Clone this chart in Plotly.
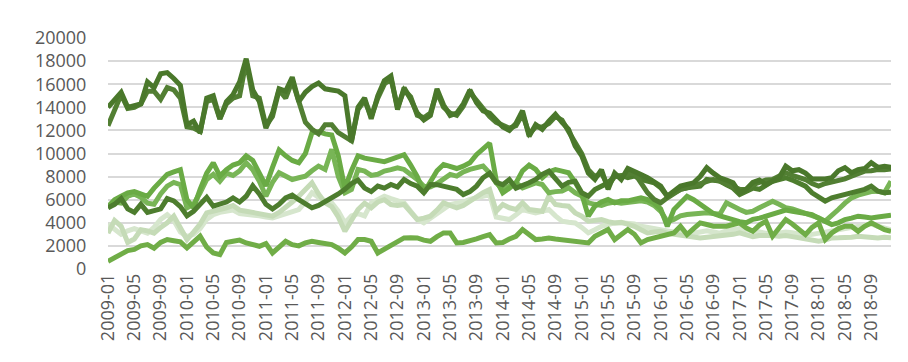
import plotly.graph_objects as go

months = [f"{y}-{m:02d}" for y in range(2009, 2019) for m in range(1, 13)]
tick_labels = months[::4]

series_a = [14000, 14700, 15300, 14000, 14100, 14300, 16200, 15700, 16900, 17000,
            16500, 15900, 12500, 12800, 11800, 14800, 15000, 13000, 14500, 15100,
            16200, 18200, 15500, 14500, 12200, 13500, 15600, 15400, 16600, 14500,
            15300, 15800, 16100, 15600, 15500, 15400, 15000, 11000, 14000, 14800,
            13000, 15000, 16300, 16700, 13800, 15700, 14700, 13500, 12900, 13300,
            15600, 14200, 13300, 13500, 14300, 15500, 14400, 13700, 13500, 12960,
            12300, 12000, 12600, 13700, 11500, 12500, 12100, 12800, 13400, 12700,
            12100, 10650, 9800, 8300, 7750, 8600, 6900, 8300, 7750, 8700,
            8500, 8190, 7900, 7500, 7175, 6300, 6800, 7175, 7320, 7460,
            8000, 8770, 8300, 7900, 7700, 7460, 6600, 6900, 7500, 7700,
            7300, 7600, 7900, 8900, 8500, 8600, 8300, 7800, 7750, 7800,
            7900, 8500, 8770, 8330, 8600, 8700, 9200, 8800, 8900, 8800]

series_b = [12400, 13800, 15100, 13900, 14000, 14300, 15400, 15400, 14700, 15700,
            15500, 14800, 12300, 12200, 11900, 14500, 14700, 13000, 14300, 14800,
            15000, 18000, 15000, 14800, 12400, 13200, 15500, 14800, 16300, 14500,
            12700, 12100, 11700, 12500, 12500, 11800, 11500, 11100, 13800, 14600,
            13200, 14800, 16000, 16500, 14000, 15500, 14900, 13300, 13100, 13500,
            15300, 14000, 13500, 13300, 14100, 15300, 14600, 13900, 13200, 12700,
            12500, 12200, 12400, 13400, 11700, 12300, 12300, 12600, 13200, 12900,
            11900, 11000, 10000, 8600, 8000, 8300, 7200, 8000, 8000, 8200,
            8330, 7460, 6600, 6020, 5730, 6160, 6500, 6890, 7030, 7200,
            7460, 7600, 7750, 7610, 7400, 7175, 6890, 6890, 7300, 7500,
            7700, 7750, 8000, 8330, 8100, 7900, 7750, 7400, 7175, 7400,
            7500, 7610, 7800, 8040, 8300, 8480, 8500, 8620, 8600, 8650]

series_c = [5300, 5600, 6100, 5200, 4900, 5600, 4900, 5000, 5200, 6100,
            5900, 5400, 4600, 5000, 5600, 6200, 5440, 5600, 5800, 6160,
            5800, 6300, 7200, 6500, 5600, 5200, 5600, 6160, 6400, 6000,
            5700, 5300, 5500, 5800, 6160, 6500, 6900, 7400, 7700, 7000,
            6700, 7175, 7000, 7320, 7100, 7750, 7400, 7175, 6600, 7320,
            7300, 7175, 7000, 6890, 6450, 6700, 7175, 7900, 8300, 7500,
            7300, 7750, 7000, 7200, 7460, 7750, 8200, 8480, 7750, 7175,
            7500, 7600, 6600, 6300, 6890, 7200, 7460, 8040, 8100, 7900,
            8040, 7750, 7600, 7460, 7030, 6300, 6600, 6890, 7030, 7100,
            7175, 7750, 7700, 7610, 7300, 7000, 6450, 6740, 7000, 6900,
            7300, 7600, 7750, 7900, 7700, 7400, 7175, 6600, 6200, 5870,
            6160, 6300, 6450, 6600, 6740, 6900, 7175, 6740, 6600, 6650]

series_d = [5400, 6000, 6300, 6600, 6700, 6500, 6300, 7000, 7600, 8200,
            8400, 8600, 6000, 5300, 6900, 8300, 9200, 8040, 8600, 9000,
            9200, 9800, 9400, 8400, 7200, 8800, 10300, 9800, 9400, 9200,
            10000, 11800, 11900, 11700, 11600, 9800, 7000, 8500, 9800, 9600,
            9500, 9400, 9300, 9500, 9700, 9900, 9000, 8000, 6600, 7500,
            8500, 9050, 8900, 8700, 8900, 9200, 9900, 10400, 10900, 7700,
            6600, 7000, 7460, 8500, 9000, 8620, 7900, 8400, 8600, 8480,
            8330, 7500, 6500, 4570, 5440, 5800, 6020, 5730, 5900, 5900,
            6000, 6160, 6000, 5730, 5200, 3700, 5150, 5800, 6300, 6000,
            5600, 5200, 4800, 4600, 4400, 4280, 4100, 4000, 4300, 4400,
            4600, 4716, 4900, 5100, 5000, 4900, 4860, 4716, 4400, 4137,
            3848, 4000, 4282, 4400, 4571, 4500, 4426, 4500, 4550, 4650]

series_e = [5300, 5800, 5700, 6300, 6500, 6200, 5700, 5600, 6500, 7170,
            7500, 7300, 5300, 5600, 6600, 7750, 8200, 7600, 8300, 8100,
            8500, 9200, 8600, 7600, 6300, 7500, 8330, 8000, 7750, 7900,
            8040, 8500, 8910, 8620, 10360, 8000, 6600, 6890, 8620, 8480,
            8100, 8200, 8480, 8600, 8766, 8620, 8200, 7753, 7175, 7100,
            7400, 7753, 8187, 8043, 8400, 8621, 8766, 8910, 8300, 7464,
            6885, 7200, 7464, 7030, 7200, 7464, 7319, 6596, 6700, 6741,
            7030, 6600, 6307, 5728, 5600, 5500, 5700, 5800, 5700, 5800,
            5900, 5900, 5800, 5500, 5000, 4100, 4300, 4600, 4716, 4800,
            4860, 4860, 4800, 4750, 5730, 5400, 5150, 4900, 5000, 5300,
            5580, 5870, 5600, 5300, 5200, 5000, 4900, 4600, 4430, 4140,
            4600, 5150, 5700, 6160, 6400, 6600, 6700, 6740, 6600, 7600]

series_f = [3100, 4200, 3700, 2300, 2600, 3400, 3300, 3100, 3600, 4000,
            4571, 3600, 2546, 3200, 3900, 4860, 5000, 5100, 5300, 5500,
            5100, 5005, 4900, 4716, 4600, 4571, 4900, 5300, 5800, 6300,
            6900, 7464, 6500, 5728, 5400, 4500, 3269, 4300, 5150, 5700,
            5300, 5800, 6000, 5583, 5500, 5583, 5000, 4282, 4400, 4571,
            5100, 5728, 5500, 5294, 5500, 5873, 6300, 6600, 6885, 5000,
            5583, 5300, 5150, 5728, 5150, 5050, 5005, 6307, 5583, 5500,
            5439, 4860, 4571, 4137, 4200, 4282, 4100, 3992, 4050, 3900,
            3700, 3400, 3124, 3200, 3269, 3100, 3000, 2900, 2835, 2800,
            2690, 2750, 2800, 2835, 2900, 3000, 3124, 3000, 2800, 2900,
            2950, 2900, 2835, 2900, 2800, 2690, 2600, 2500, 2400, 2500,
            2690, 2700, 2690, 2750, 2835, 2800, 2700, 2690, 2750, 2700]

series_g = [3900, 3500, 3000, 3300, 3500, 3300, 3100, 3600, 4300, 4700,
            4200, 3200, 2800, 3000, 3500, 4300, 4700, 4900, 5000, 5100,
            4800, 4750, 4716, 4600, 4500, 4426, 4600, 4800, 5000, 5150,
            5800, 6596, 6200, 5900, 5728, 5000, 3992, 4600, 4800, 4600,
            5700, 6000, 6300, 6100, 5900, 5728, 5000, 4300, 3992, 4400,
            4716, 5100, 5583, 5700, 5800, 6017, 6150, 6300, 6451, 4500,
            4400, 4282, 4700, 5150, 5000, 4860, 5000, 5150, 4600, 4137,
            4050, 3992, 3600, 3124, 3400, 3703, 3850, 3992, 4000, 4000,
            3900, 3700, 3600, 3500, 3400, 3300, 3200, 3100, 3000, 3100,
            3200, 3300, 3200, 3100, 3300, 3400, 3500, 3400, 3300, 3200,
            3100, 3000, 3100, 3200, 3150, 3000, 2900, 3000, 3100, 3200,
            3300, 3400, 3500, 3600, 3700, 3800, 3900, 3700, 3500, 3400]

series_h = [665, 1000, 1300, 1600, 1700, 2000, 2110, 1800, 2300, 2550,
            2450, 2350, 1820, 2300, 2840, 1900, 1390, 1240, 2300, 2400,
            2500, 2257, 2100, 1967, 2200, 1389, 1900, 2401, 2112, 2000,
            2257, 2401, 2300, 2257, 2112, 1800, 1389, 1900, 2546, 2546,
            2400, 1389, 1700, 1967, 2300, 2690, 2700, 2690, 2500, 2401,
            2800, 3124, 3124, 2257, 2300, 2401, 2600, 2800, 2980, 2257,
            2300, 2600, 2835, 3414, 3000, 2546, 2600, 2690, 2600, 2546,
            2450, 2401, 2300, 2257, 2835, 3100, 3414, 2546, 3000, 3414,
            3000, 2257, 2546, 2700, 2835, 2980, 3124, 3703, 2980, 3500,
            3992, 3850, 3703, 3700, 3703, 3850, 3992, 3558, 3269, 3800,
            4137, 2835, 3500, 4282, 3900, 3400, 2980, 3600, 3992, 2546,
            3124, 3500, 3703, 3703, 3269, 3700, 3992, 3703, 3400, 3269]

y_ticks = list(range(0, 20001, 2000))
y_tick_text = [str(v) for v in y_ticks]

# draw order: pale lines first, dark lines on top
traces = [
    ("G", series_g, "#d6e6cd"),
    ("F", series_f, "#c5dbb7"),
    ("H", series_h, "#70ad47"),
    ("E", series_e, "#78b556"),
    ("D", series_d, "#6aab45"),
    ("C", series_c, "#4d7d2e"),
    ("B", series_b, "#527f33"),
    ("A", series_a, "#4a782b"),
]

fig = go.Figure()
for name, vals, col in traces:
    fig.add_trace(go.Scatter(x=months, y=vals, mode="lines", name=name,
                             line=dict(color=col, width=5), showlegend=False))

font_fam = "Open Sans, Noto Sans, sans-serif"
fig.update_layout(
    width=908, height=362,
    margin=dict(l=100, r=25, t=30, b=101),
    paper_bgcolor="white", plot_bgcolor="white",
    font=dict(family=font_fam, size=18, color="#595959"),
    xaxis=dict(type="category", range=[0, 119], tickmode="array",
               tickvals=tick_labels, ticktext=tick_labels, tickangle=-90,
               showgrid=False, showline=False, zeroline=False, ticks=""),
    yaxis=dict(range=[0, 20000], tickmode="array", tickvals=y_ticks,
               ticktext=y_tick_text, showgrid=True,
               gridcolor="#d9d9d9", gridwidth=2, zeroline=False, showline=False,
               ticks="outside", ticklen=17, tickcolor="rgba(0,0,0,0)"),
)
fig.write_html("out.html")
